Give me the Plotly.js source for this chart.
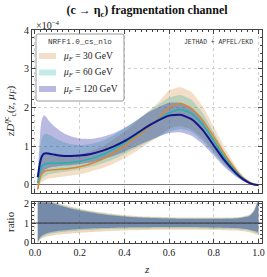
<!DOCTYPE html>
<html><head><meta charset="utf-8">
<script src="https://cdn.plot.ly/plotly-3.0.1.min.js"></script>
<style>html,body{margin:0;padding:0;background:#fff}#c{width:267px;height:277px}</style>
</head><body><div id="c"></div>
<script>
// ---- data ----
const z = [0.012, 0.015, 0.02, 0.025, 0.03, 0.04, 0.05, 0.06, 0.08, 0.1, 0.13, 0.16, 0.2, 0.25, 0.3, 0.35, 0.4, 0.45, 0.5, 0.55, 0.6, 0.65, 0.7, 0.75, 0.8, 0.85, 0.9, 0.93, 0.96, 0.98, 1.0];
// central values (units of 1e-4)
const central30  = [-0.12, -0.02, 0.12, 0.22, 0.28, 0.34, 0.37, 0.38, 0.39, 0.4, 0.41, 0.43, 0.47, 0.55, 0.66, 0.82, 1.0, 1.22, 1.45, 1.7, 2.0, 2.1, 1.98, 1.68, 1.24, 0.78, 0.38, 0.19, 0.07, 0.02, 0];
const central60  = [0.05, 0.15, 0.3, 0.4, 0.47, 0.53, 0.55, 0.56, 0.56, 0.56, 0.57, 0.58, 0.61, 0.68, 0.78, 0.92, 1.09, 1.28, 1.48, 1.68, 1.86, 1.95, 1.85, 1.56, 1.14, 0.7, 0.34, 0.17, 0.06, 0.015, 0];
const central120 = [0.2, 0.3, 0.5, 0.64, 0.73, 0.81, 0.82, 0.81, 0.79, 0.77, 0.75, 0.75, 0.76, 0.8, 0.88, 0.99, 1.13, 1.31, 1.5, 1.66, 1.79, 1.81, 1.7, 1.42, 1.02, 0.62, 0.3, 0.15, 0.05, 0.015, 0];
// uncertainty bands (main panel)
const hi30  = [0.0, 0.05, 0.3, 0.55, 0.66, 0.76, 0.81, 0.82, 0.81, 0.8, 0.78, 0.77, 0.79, 0.87, 0.99, 1.17, 1.37, 1.61, 1.86, 2.12, 2.44, 2.52, 2.4, 2.03, 1.5, 0.95, 0.47, 0.24, 0.095, 0.03, 0];
const lo30  = [-0.2, -0.1, 0.01, 0.04, 0.07, 0.11, 0.14, 0.16, 0.18, 0.2, 0.22, 0.245, 0.28, 0.35, 0.43, 0.55, 0.69, 0.86, 1.05, 1.23, 1.45, 1.52, 1.43, 1.2, 0.87, 0.53, 0.25, 0.12, 0.04, 0.01, 0];
const hi60  = [0.1, 0.35, 0.75, 1.05, 1.2, 1.3, 1.32, 1.3, 1.24, 1.18, 1.1, 1.05, 1.03, 1.06, 1.14, 1.28, 1.46, 1.65, 1.86, 2.07, 2.25, 2.32, 2.2, 1.86, 1.36, 0.84, 0.41, 0.21, 0.08, 0.024, 0];
const lo60  = [0.0, 0.0, 0.045, 0.1, 0.146, 0.207, 0.242, 0.269, 0.297, 0.314, 0.342, 0.365, 0.403, 0.469, 0.554, 0.662, 0.796, 0.947, 1.095, 1.243, 1.376, 1.443, 1.369, 1.139, 0.821, 0.497, 0.235, 0.114, 0.037, 0.009, 0];
const hi120 = [0.3, 0.54, 1.05, 1.47, 1.68, 1.8, 1.76, 1.67, 1.55, 1.45, 1.33, 1.26, 1.2, 1.19, 1.24, 1.33, 1.47, 1.65, 1.85, 2.0, 2.12, 2.12, 1.98, 1.66, 1.2, 0.74, 0.36, 0.18, 0.065, 0.022, 0];
const lo120 = [0.0, 0.02, 0.1, 0.19, 0.27, 0.36, 0.41, 0.44, 0.47, 0.48, 0.5, 0.51, 0.54, 0.58, 0.66, 0.75, 0.86, 0.99, 1.12, 1.24, 1.34, 1.36, 1.27, 1.06, 0.76, 0.45, 0.21, 0.105, 0.034, 0.009, 0];
// ratio panel bands (band / central)
const ratioHi30  = [3, 3, 2.9, 2.6, 2.45, 2.3, 2.25, 2.2, 2.12, 2.04, 1.94, 1.85, 1.74, 1.63, 1.54, 1.47, 1.41, 1.37, 1.34, 1.32, 1.3, 1.29, 1.28, 1.28, 1.28, 1.28, 1.3, 1.34, 1.44, 1.7, 2.3];
const ratioLo30  = [-0.2, 0.0, 0.1, 0.16, 0.2, 0.25, 0.29, 0.32, 0.36, 0.39, 0.43, 0.46, 0.5, 0.54, 0.57, 0.6, 0.62, 0.63, 0.64, 0.65, 0.65, 0.65, 0.65, 0.65, 0.64, 0.63, 0.61, 0.58, 0.52, 0.45, 0.38];
const ratioHi60  = [3, 3, 2.85, 2.55, 2.4, 2.25, 2.2, 2.15, 2.07, 1.99, 1.89, 1.8, 1.7, 1.59, 1.5, 1.43, 1.37, 1.33, 1.3, 1.28, 1.26, 1.25, 1.25, 1.25, 1.25, 1.25, 1.27, 1.31, 1.4, 1.65, 2.25];
const ratioLo60  = [-0.1, 0.05, 0.15, 0.22, 0.27, 0.33, 0.38, 0.42, 0.47, 0.51, 0.55, 0.58, 0.62, 0.65, 0.68, 0.7, 0.71, 0.72, 0.72, 0.73, 0.73, 0.73, 0.73, 0.72, 0.71, 0.7, 0.68, 0.65, 0.6, 0.53, 0.45];
const ratioHi120 = [3, 3, 2.8, 2.5, 2.35, 2.2, 2.15, 2.1, 2.02, 1.94, 1.84, 1.75, 1.65, 1.55, 1.46, 1.39, 1.34, 1.3, 1.27, 1.25, 1.23, 1.22, 1.22, 1.22, 1.22, 1.22, 1.24, 1.28, 1.36, 1.6, 2.2];
const ratioLo120 = [0.0, 0.1, 0.2, 0.28, 0.34, 0.41, 0.46, 0.5, 0.55, 0.59, 0.63, 0.66, 0.69, 0.72, 0.74, 0.76, 0.77, 0.78, 0.78, 0.79, 0.79, 0.79, 0.79, 0.78, 0.77, 0.76, 0.74, 0.71, 0.66, 0.6, 0.52];
const scaleLabels = ['30', '60', '120'];
const xTicks = [0, 0.2, 0.4, 0.6, 0.8, 1.0];
const xTickText = ['0.0', '0.2', '0.4', '0.6', '0.8', '1.0'];
const yTicks = [0, 1, 2, 3, 4];
const rTicks = [0, 1, 2];

// ---- styles ----
const bandFill = ['rgba(207,123,35,0.25)', 'rgba(15,175,155,0.25)', 'rgba(22,22,155,0.3)'];
const ratioFill = ['rgba(207,123,35,0.3)', 'rgba(15,175,155,0.3)', 'rgba(22,22,155,0.36)'];
const lineCol = ['#e0842e', '#22b2a8', '#15158a'];
const lineW = [1.5, 1.5, 2];
const centrals = [central30, central60, central120];
const bandHi = [hi30, hi60, hi120];
const bandLo = [lo30, lo60, lo120];
const rHi = [ratioHi30, ratioHi60, ratioHi120];
const rLo = [ratioLo30, ratioLo60, ratioLo120];
const sp = {shape: 'spline', smoothing: 0.5};

const traces = [];
for (let k = 0; k < 3; k++) {
  traces.push({x: z, y: bandLo[k], xaxis: 'x2', yaxis: 'y', mode: 'lines', line: Object.assign({width: 0}, sp), showlegend: false});
  traces.push({x: z, y: bandHi[k], xaxis: 'x2', yaxis: 'y', mode: 'lines', fill: 'tonexty', fillcolor: bandFill[k],
    line: Object.assign({width: 0}, sp), showlegend: false});
}
for (let k = 0; k < 3; k++) {
  traces.push({x: z, y: rLo[k], xaxis: 'x', yaxis: 'y2', mode: 'lines', line: Object.assign({width: 0}, sp), showlegend: false});
  traces.push({x: z, y: rHi[k], xaxis: 'x', yaxis: 'y2', mode: 'lines', fill: 'tonexty', fillcolor: ratioFill[k],
    line: Object.assign({width: 0}, sp), showlegend: false});
}
for (let k = 0; k < 3; k++) {
  traces.push({x: z, y: centrals[k], xaxis: 'x2', yaxis: 'y', mode: 'lines',
    line: Object.assign({color: lineCol[k], width: lineW[k]}, sp), showlegend: false});
}

// pixel helpers for layout placement
const L = 32, R = 5, T = 30, B = 34, W = 267, H = 277;
const px = x => (x - L) / (W - L - R);
const py = y => (H - B - y) / (H - T - B);

const serif = 'Liberation Serif';
const mono = 'Liberation Mono';
const axCommon = {showline: true, linecolor: '#444', linewidth: 1, mirror: 'allticks', ticks: 'inside',
  ticklen: 4, tickcolor: '#444', showgrid: true, gridcolor: '#d0d0d0', griddash: 'dot', gridwidth: 1,
  tickfont: {family: serif, size: 10, color: '#222'}, zeroline: false, showticklabels: true};

const shapes = [
  {type: 'line', xref: 'paper', yref: 'y2', x0: 0, x1: 1, y0: 1, y1: 1, line: {color: '#333', width: 1}, layer: 'above'},
  {type: 'path', xref: 'paper', yref: 'paper', layer: 'above',
    path: (() => { const x0 = px(36), x1 = px(124), y0 = py(34), y1 = py(101), rx = 2 / 230, ry = 2 / 213;
      return `M${x0+rx},${y0} L${x1-rx},${y0} Q${x1},${y0} ${x1},${y0-ry} L${x1},${y1+ry} Q${x1},${y1} ${x1-rx},${y1} L${x0+rx},${y1} Q${x0},${y1} ${x0},${y1+ry} L${x0},${y0-ry} Q${x0},${y0} ${x0+rx},${y0} Z`; })(),
    fillcolor: 'rgba(255,255,255,0.92)', line: {color: '#999', width: 1}}
];
const rowsY = [56, 72.5, 89];
const annotations = [
  {text: '×10<sup>−4</sup>', xref: 'paper', yref: 'paper', x: px(34), y: py(25), xanchor: 'left', yanchor: 'middle',
    showarrow: false, font: {family: serif, size: 10, color: '#222'}},
  {text: 'NRFF1.0_cs_nlo', xref: 'paper', yref: 'paper', x: px(80), y: py(42), xanchor: 'center', yanchor: 'middle',
    showarrow: false, font: {family: mono, size: 7.6, color: '#333'}},
  {text: 'JETHAD + APFEL/EKD', xref: 'paper', yref: 'paper', x: px(218), y: py(42), xanchor: 'center', yanchor: 'middle',
    showarrow: false, font: {family: mono, size: 6.4, color: '#333'}},
  {text: '<i>zD</i><sup><i>η</i>c</sup><sub>c</sub>(<i>z</i>, <i>μ</i><sub><i>F</i></sub>)', xref: 'paper', yref: 'paper',
    x: px(10), y: py(111), xanchor: 'center', yanchor: 'middle', textangle: -90, showarrow: false,
    font: {family: serif, size: 11, color: '#222'}},
  {text: 'ratio', xref: 'paper', yref: 'paper', x: px(10), y: py(222), xanchor: 'center', yanchor: 'middle',
    textangle: -90, showarrow: false, font: {family: serif, size: 11, color: '#222'}},
  {text: '<i>z</i>', xref: 'paper', yref: 'paper', x: px(147), y: py(269), xanchor: 'center', yanchor: 'middle',
    showarrow: false, font: {family: serif, size: 11, color: '#222'}}
];
for (let k = 0; k < 3; k++) {
  shapes.push({type: 'rect', xref: 'paper', yref: 'paper', layer: 'above', x0: px(39), x1: px(56), y0: py(rowsY[k] - 3), y1: py(rowsY[k] + 3),
    fillcolor: bandFill[k], line: {width: 0}});
  annotations.push({text: '<i>μ</i><sub><i>F</i></sub> = ' + scaleLabels[k] + ' GeV', xref: 'paper', yref: 'paper',
    x: px(61), y: py(rowsY[k]), xanchor: 'left', yanchor: 'middle', showarrow: false,
    font: {family: serif, size: 9.5, color: '#222'}});
}

const layout = {
  width: W, height: H, margin: {l: L, r: R, t: T, b: B, pad: 0},
  paper_bgcolor: '#fff', plot_bgcolor: '#fff', showlegend: false,
  title: {text: '<b>(c → η<sub>c</sub>) fragmentation channel</b>', x: px(147), xref: 'paper', xanchor: 'center',
    y: 1 - 10 / H, yanchor: 'middle', font: {family: serif, size: 12, color: '#111'}},
  xaxis: Object.assign({}, axCommon, {anchor: 'y2', range: [-0.0134, 1.0157], tickvals: xTicks, ticktext: xTickText,
    minor: {ticks: 'inside', ticklen: 2, dtick: 0.025, tickcolor: '#444', showgrid: false}}),
  xaxis2: Object.assign({}, axCommon, {anchor: 'y', matches: 'x', range: [-0.0134, 1.0157], tickvals: xTicks,
    showticklabels: false, minor: {ticks: 'inside', ticklen: 2, dtick: 0.025, tickcolor: '#444', showgrid: false}}),
  yaxis: Object.assign({}, axCommon, {anchor: 'x2', domain: [0.236, 1], range: [-0.2, 4], tickvals: yTicks,
    zeroline: true, zerolinecolor: '#777', zerolinewidth: 1,
    minor: {ticks: 'inside', ticklen: 2, dtick: 0.2, tickcolor: '#444', showgrid: false}}),
  yaxis2: Object.assign({}, axCommon, {anchor: 'x', domain: [0, 0.191], range: [-0.03, 2.07], tickvals: rTicks,
    ticktext: ['0', '1', '2'], minor: {ticks: 'inside', ticklen: 2, dtick: 0.2, tickcolor: '#444', showgrid: false}}),
  shapes: shapes, annotations: annotations
};
Plotly.newPlot('c', traces, layout, {staticPlot: true, displayModeBar: false});
</script></body></html>
